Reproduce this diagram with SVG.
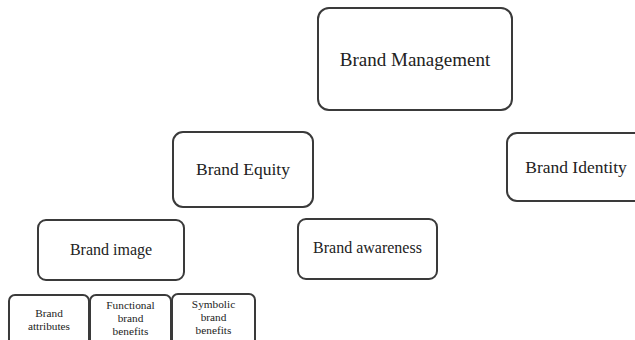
<svg xmlns="http://www.w3.org/2000/svg" width="635" height="340" viewBox="0 0 635 340">
<style>
.box{fill:#fff;stroke:#3a3a3a;stroke-width:2}
text{font-family:"Liberation Serif","Times New Roman",serif;fill:#222;text-anchor:middle}
.s{font-size:11.3px}
</style>
<rect width="635" height="340" fill="#fff"/>
<g id="brand-management"><rect class="box" x="318" y="8" width="194" height="102" rx="11"/><text x="415" y="66" font-size="19">Brand Management</text></g>
<g id="brand-equity"><rect class="box" x="173" y="132" width="140" height="75" rx="10"/><text x="243" y="175" font-size="17.5">Brand Equity</text></g>
<g id="brand-identity"><rect class="box" x="507" y="133" width="140" height="68" rx="10"/><text x="576" y="173" font-size="17.5">Brand Identity</text></g>
<g id="brand-image"><rect class="box" x="38" y="220" width="146" height="60" rx="8"/><text x="111" y="255" font-size="16">Brand image</text></g>
<g id="brand-awareness"><rect class="box" x="298" y="219" width="139" height="60" rx="8"/><text x="367.5" y="253" font-size="16">Brand awareness</text></g>
<g id="brand-attributes"><rect class="box" x="9" y="295" width="80" height="60" rx="6"/><text class="s" x="49" y="317">Brand</text><text class="s" x="49" y="330">attributes</text></g>
<g id="functional-brand-benefits"><rect class="box" x="90" y="295" width="81" height="60" rx="6"/><text class="s" x="130.5" y="309">Functional</text><text class="s" x="130.5" y="322">brand</text><text class="s" x="130.5" y="335">benefits</text></g>
<g id="symbolic-brand-benefits"><rect class="box" x="172" y="294" width="83" height="60" rx="6"/><text class="s" x="213.5" y="308">Symbolic</text><text class="s" x="213.5" y="321">brand</text><text class="s" x="213.5" y="334">benefits</text></g>
<g id="connectors"></g>
</svg>
